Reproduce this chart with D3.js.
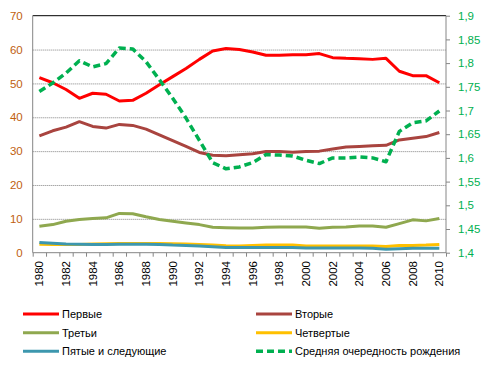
<!DOCTYPE html>
<html lang="ru">
<head>
<meta charset="UTF-8">
<title>Распределение рождений по очередности</title>
<style>
  body { margin: 0; background: #fff; }
  svg { display: block; font-family: "Liberation Sans", Arial, sans-serif; }
  .grid line { stroke: #808080; stroke-dasharray: 1,1; }
  .axis path, .axis line { stroke: #868686; }
</style>
</head>
<body>
<svg width="482" height="367"></svg>
<script src="https://cdn.jsdelivr.net/npm/d3@7"></script>
<script>
const years = d3.range(1980, 2011);

const first = [51.7, 50.2, 48.2, 45.6, 47.1, 46.8, 44.8, 45.0, 47.1, 49.6,
  52.0, 54.4, 57.1, 59.6, 60.3, 60.0, 59.3, 58.3, 58.3, 58.5,
  58.5, 58.8, 57.6, 57.4, 57.3, 57.1, 57.4, 53.6, 52.3, 52.3, 50.2];
const second = [34.5, 36.0, 37.1, 38.7, 37.3, 36.8, 37.9, 37.6, 36.5, 34.8,
  33.1, 31.4, 29.6, 28.8, 28.6, 28.9, 29.2, 29.9, 29.9, 29.7,
  29.9, 30.0, 30.6, 31.2, 31.4, 31.6, 31.7, 33.3, 33.8, 34.3, 35.5];
const third = [7.8, 8.3, 9.3, 9.8, 10.1, 10.3, 11.6, 11.5, 10.6, 9.8,
  9.3, 8.8, 8.3, 7.5, 7.4, 7.3, 7.3, 7.5, 7.6, 7.6,
  7.6, 7.2, 7.5, 7.6, 7.9, 7.9, 7.5, 8.6, 9.7, 9.4, 10.1];
const fourth = [2.5, 2.45, 2.45, 2.45, 2.55, 2.65, 2.75, 2.75, 2.75, 2.75,
  2.65, 2.55, 2.45, 2.25, 2.05, 1.95, 2.15, 2.25, 2.25, 2.25,
  1.95, 1.95, 1.95, 1.95, 1.95, 1.95, 1.85, 2.15, 2.15, 2.25, 2.45];
const fifthPlus = [3.0, 2.8, 2.6, 2.5, 2.45, 2.45, 2.5, 2.5, 2.5, 2.45,
  2.25, 2.15, 2.0, 1.75, 1.5, 1.5, 1.55, 1.55, 1.55, 1.55,
  1.4, 1.4, 1.4, 1.4, 1.4, 1.3, 1.0, 1.2, 1.3, 1.3, 1.3];
const meanOrder = [1.740, 1.758, 1.779, 1.805, 1.792, 1.799, 1.832, 1.830, 1.803, 1.765,
  1.726, 1.684, 1.637, 1.590, 1.577, 1.581, 1.590, 1.607, 1.606, 1.604,
  1.595, 1.588, 1.600, 1.600, 1.602, 1.600, 1.592, 1.656, 1.674, 1.678, 1.699];

const leftTicks = [0, 10, 20, 30, 40, 50, 60, 70];
const rightTicks = [1.4, 1.45, 1.5, 1.55, 1.6, 1.65, 1.7, 1.75, 1.8, 1.85, 1.9];

const series = [
  { name: 'Первые', values: first, color: '#FF0000', axis: 'left' },
  { name: 'Вторые', values: second, color: '#A9443F', axis: 'left' },
  { name: 'Третьи', values: third, color: '#8FA84F', axis: 'left' },
  { name: 'Четвертые', values: fourth, color: '#FFC000', axis: 'left' },
  { name: 'Пятые и следующие', values: fifthPlus, color: '#3D97AE', axis: 'left' },
  { name: 'Средняя очередность рождения', values: meanOrder, color: '#00B050', axis: 'right', dashed: true }
];

const svg = d3.select('svg');
const plotLeft = 32.7, plotRight = 446, plotTop = 15.7, plotBottom = 252.7;

const x = d3.scaleBand().domain(years).range([plotLeft, plotRight]);
const cx = d => x(d) + x.bandwidth() / 2;
const yL = d3.scaleLinear().domain([0, 70]).range([plotBottom, plotTop]);
const yR = d3.scaleLinear().domain([1.4, 1.9]).range([plotBottom, plotTop]);

// gridlines
svg.append('g')
  .attr('class', 'grid')
  .attr('transform', `translate(${plotLeft},0)`)
  .call(d3.axisLeft(yL).tickValues(leftTicks.slice(1, -1)).tickSize(-(plotRight - plotLeft)).tickFormat(''))
  .call(g => g.select('.domain').remove());

svg.append('line')
  .attr('x1', plotLeft).attr('x2', plotRight)
  .attr('y1', yL(70)).attr('y2', yL(70))
  .attr('stroke', '#000');

// left axis
svg.append('g')
  .attr('class', 'axis')
  .attr('transform', `translate(${plotLeft},0)`)
  .call(d3.axisLeft(yL).tickValues(leftTicks).tickSize(0).tickPadding(10))
  .call(g => g.select('.domain').attr('d', `M0,${plotTop}V${plotBottom}`))
  .call(g => g.selectAll('text').attr('fill', '#C0600E').attr('font-size', 11.5).attr('font-family', null));

// right axis
svg.append('g')
  .attr('class', 'axis')
  .attr('transform', `translate(${plotRight},0)`)
  .call(d3.axisRight(yR).tickValues(rightTicks).tickSize(4).tickPadding(8)
    .tickFormat(d => d3.format('.2~f')(d).replace('.', ',')))
  .call(g => g.select('.domain').attr('d', `M0,${plotTop}V${plotBottom}`))
  .call(g => g.selectAll('text').attr('fill', '#00B050').attr('font-size', 11.5).attr('font-family', null));

// x axis: tick marks at category boundaries
const xb = d3.scaleLinear().domain([0, years.length]).range([plotLeft, plotRight]);
svg.append('g')
  .attr('class', 'axis')
  .attr('transform', `translate(0,${plotBottom})`)
  .call(d3.axisBottom(xb).tickValues(d3.range(0, years.length + 1)).tickSize(4).tickFormat(''))
  .call(g => g.select('.domain').attr('d', `M${plotLeft},0H${plotRight}`));

// x labels
svg.append('g')
  .selectAll('text')
  .data(years.filter(d => d % 2 === 0))
  .join('text')
  .attr('transform', d => `translate(${cx(d)},261) rotate(-90)`)
  .attr('text-anchor', 'end')
  .attr('dy', '0.35em')
  .attr('font-size', 11.5)
  .attr('fill', '#000')
  .text(d => d);

// lines
series.forEach(s => {
  const y = s.axis === 'left' ? yL : yR;
  const line = d3.line().x((d, i) => cx(years[i])).y(d => y(d));
  svg.append('path')
    .datum(s.values)
    .attr('fill', 'none')
    .attr('stroke', s.color)
    .attr('stroke-width', s.dashed ? 3.5 : 3)
    .attr('stroke-dasharray', s.dashed ? '7,4' : null)
    .attr('stroke-linejoin', 'round')
    .attr('d', line);
});

// legend
const legendPos = [[23, 314], [256, 314], [23, 332.7], [256, 332.7], [23, 351.3], [256, 351.3]];
const legend = svg.append('g')
  .selectAll('g')
  .data(series)
  .join('g')
  .attr('transform', (d, i) => `translate(${legendPos[i][0]},${legendPos[i][1]})`);

legend.append('line')
  .attr('x1', 0).attr('x2', 36)
  .attr('stroke', d => d.color)
  .attr('stroke-width', d => d.dashed ? 3.5 : 3)
  .attr('stroke-dasharray', d => d.dashed ? '7,4' : null);

legend.append('text')
  .attr('x', 39)
  .attr('dy', '0.35em')
  .attr('font-size', 11)
  .attr('fill', '#000')
  .text(d => d.name);
</script>
</body>
</html>
